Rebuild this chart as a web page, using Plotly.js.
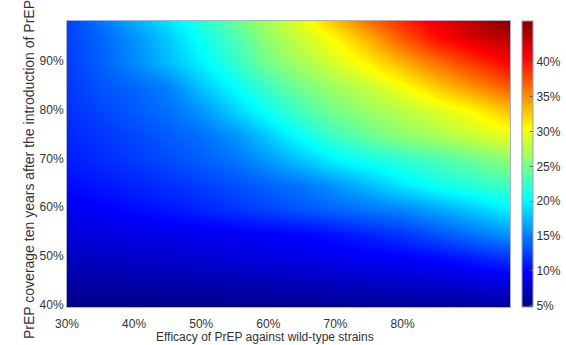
<!DOCTYPE html>
<html>
<head>
<meta charset="utf-8">
<script src="https://cdn.plot.ly/plotly-3.0.1.min.js"></script>
<style>html,body{margin:0;padding:0;background:#fff;}#chart{width:566px;height:345px;}</style>
</head>
<body>
<div id="chart"></div>
<script>
// Efficacy of PrEP against wild-type strains (%)
var efficacy = [30, 35, 40, 45, 50, 55, 60, 65, 70, 75, 80, 85, 90, 96];
// PrEP coverage ten years after the introduction of PrEP (%)
var coverage = [40, 45, 50, 55, 60, 65, 70, 75, 80, 85, 90, 95, 98.5];
// Outcome (%) — one row per coverage level, one value per efficacy level
var row40  = [4.8, 4.85, 4.9, 4.95, 5.0, 5.05, 5.1, 5.2, 5.3, 5.4, 5.5, 5.6, 5.7, 5.8];
var row45  = [6.0, 6.1, 6.2, 6.3, 6.4, 6.6, 6.8, 7.0, 7.2, 7.4, 7.6, 7.9, 8.2, 8.5];
var row50  = [7.2, 7.4, 7.6, 7.8, 8.0, 8.3, 8.6, 8.9, 9.2, 9.5, 9.8, 10.2, 11.0, 12.0];
var row55  = [8.3, 8.5, 8.8, 9.0, 9.3, 9.5, 9.8, 10.0, 10.6, 11.3, 12.1, 13.2, 14.5, 16.0];
var row60  = [9.3, 9.8, 10.3, 10.8, 11.3, 12.0, 12.7, 13.4, 14.0, 14.7, 15.4, 16.6, 18.0, 19.8];
var row65  = [10.3, 10.8, 11.3, 11.8, 12.4, 13.1, 13.9, 14.7, 16.0, 17.6, 19.4, 20.8, 21.8, 23.0];
var row70  = [11.0, 11.6, 12.2, 12.9, 13.7, 14.6, 16.1, 17.9, 19.8, 21.0, 22.0, 23.1, 24.3, 26.0];
var row75  = [11.4, 12.1, 12.8, 13.6, 14.4, 15.8, 18.1, 20.7, 22.7, 24.4, 25.9, 27.0, 28.2, 29.5];
var row80  = [11.8, 12.7, 13.5, 14.4, 15.9, 18.4, 20.8, 23.0, 25.0, 26.4, 27.7, 29.0, 30.5, 33.0];
var row85  = [12.1, 13.3, 14.0, 15.1, 17.8, 20.3, 22.7, 25.0, 26.7, 28.2, 30.1, 32.5, 34.8, 37.2];
var row90  = [12.3, 13.8, 15.4, 17.5, 19.7, 22.2, 24.9, 27.0, 28.9, 31.0, 33.6, 36.1, 38.4, 40.8];
var row95  = [12.6, 14.0, 15.8, 18.1, 20.7, 23.2, 26.2, 28.5, 30.7, 33.8, 37.4, 40.2, 42.2, 43.8];
var row98  = [12.5, 14.6, 16.9, 19.1, 21.7, 24.4, 27.0, 29.7, 33.0, 36.4, 39.1, 41.6, 43.5, 45.9];
var xTicks = [30, 40, 50, 60, 70, 80];
var xTickText = ['30%', '40%', '50%', '60%', '70%', '80%'];
var yTicks = [40, 50, 60, 70, 80, 90];
var yTickText = ['40%', '50%', '60%', '70%', '80%', '90%'];
var cTicks = [5, 10, 15, 20, 25, 30, 35, 40];
var cTickText = ['5%', '10%', '15%', '20%', '25%', '30%', '35%', '40%'];

var z = [row40, row45, row50, row55, row60, row65, row70, row75, row80, row85, row90, row95, row98];

var jet = [
  [0, 'rgb(0,0,135)'],
  [0.125, 'rgb(0,0,255)'],
  [0.375, 'rgb(0,255,255)'],
  [0.625, 'rgb(255,255,0)'],
  [0.875, 'rgb(255,0,0)'],
  [1, 'rgb(128,0,0)']
];

var fontFam = '"Liberation Sans", Arial, sans-serif';
var W = 566, H = 345, L = 67, R = 56, T = 21, B = 38;
var pw = W - L - R, ph = H - T - B;

var trace = {
  type: 'heatmap',
  x: efficacy,
  y: coverage,
  z: z,
  zsmooth: 'best',
  zmin: 4.8,
  zmax: 45.9,
  colorscale: jet,
  hoverinfo: 'skip',
  colorbar: {
    x: (521.7 - L) / pw,
    xanchor: 'left',
    xpad: 0,
    y: 0.5,
    yanchor: 'middle',
    ypad: 0,
    len: 1,
    lenmode: 'fraction',
    thickness: 11,
    thicknessmode: 'pixels',
    outlinewidth: 1,
    outlinecolor: '#9aa0b8',
    tickmode: 'array',
    tickvals: cTicks,
    ticktext: cTickText,
    ticks: 'inside',
    ticklen: 3,
    tickcolor: '#555',
    tickfont: {family: fontFam, size: 12, color: '#333'}
  }
};

var layout = {
  width: W,
  height: H,
  margin: {l: L, r: R, t: T, b: B, pad: 0, autoexpand: false},
  paper_bgcolor: '#fff',
  plot_bgcolor: '#fff',
  font: {family: fontFam, size: 12, color: '#333'},
  xaxis: {
    range: [30, 96],
    automargin: false,
    tickmode: 'array',
    tickvals: xTicks,
    ticktext: xTickText,
    ticks: '',
    showgrid: false,
    zeroline: false,
    showline: true,
    mirror: true,
    linecolor: '#aab0c8',
    linewidth: 1,
    ticklabelstandoff: 6,
    tickfont: {family: fontFam, size: 12, color: '#333'}
  },
  yaxis: {
    range: [40, 98.5],
    automargin: false,
    tickmode: 'array',
    tickvals: yTicks,
    ticktext: yTickText,
    ticks: '',
    showgrid: false,
    zeroline: false,
    showline: true,
    mirror: true,
    linecolor: '#aab0c8',
    linewidth: 1,
    ticklabelshift: -2,
    tickfont: {family: fontFam, size: 12, color: '#333'}
  },
  annotations: [
    {
      text: 'Efficacy of PrEP against wild-type strains',
      xref: 'paper', yref: 'paper',
      x: (265 - L) / pw, y: (H - B - 337) / ph,
      xanchor: 'center', yanchor: 'middle',
      showarrow: false,
      font: {family: fontFam, size: 12, color: '#333'}
    },
    {
      text: 'PrEP coverage ten years after the introduction of PrEP',
      xref: 'paper', yref: 'paper',
      x: (29 - L) / pw, y: (H - B - 170) / ph,
      xanchor: 'center', yanchor: 'middle',
      textangle: -90,
      showarrow: false,
      font: {family: fontFam, size: 14, color: '#333'}
    }
  ]
};

Plotly.newPlot('chart', [trace], layout, {staticPlot: true, displayModeBar: false});
</script>
</body>
</html>
